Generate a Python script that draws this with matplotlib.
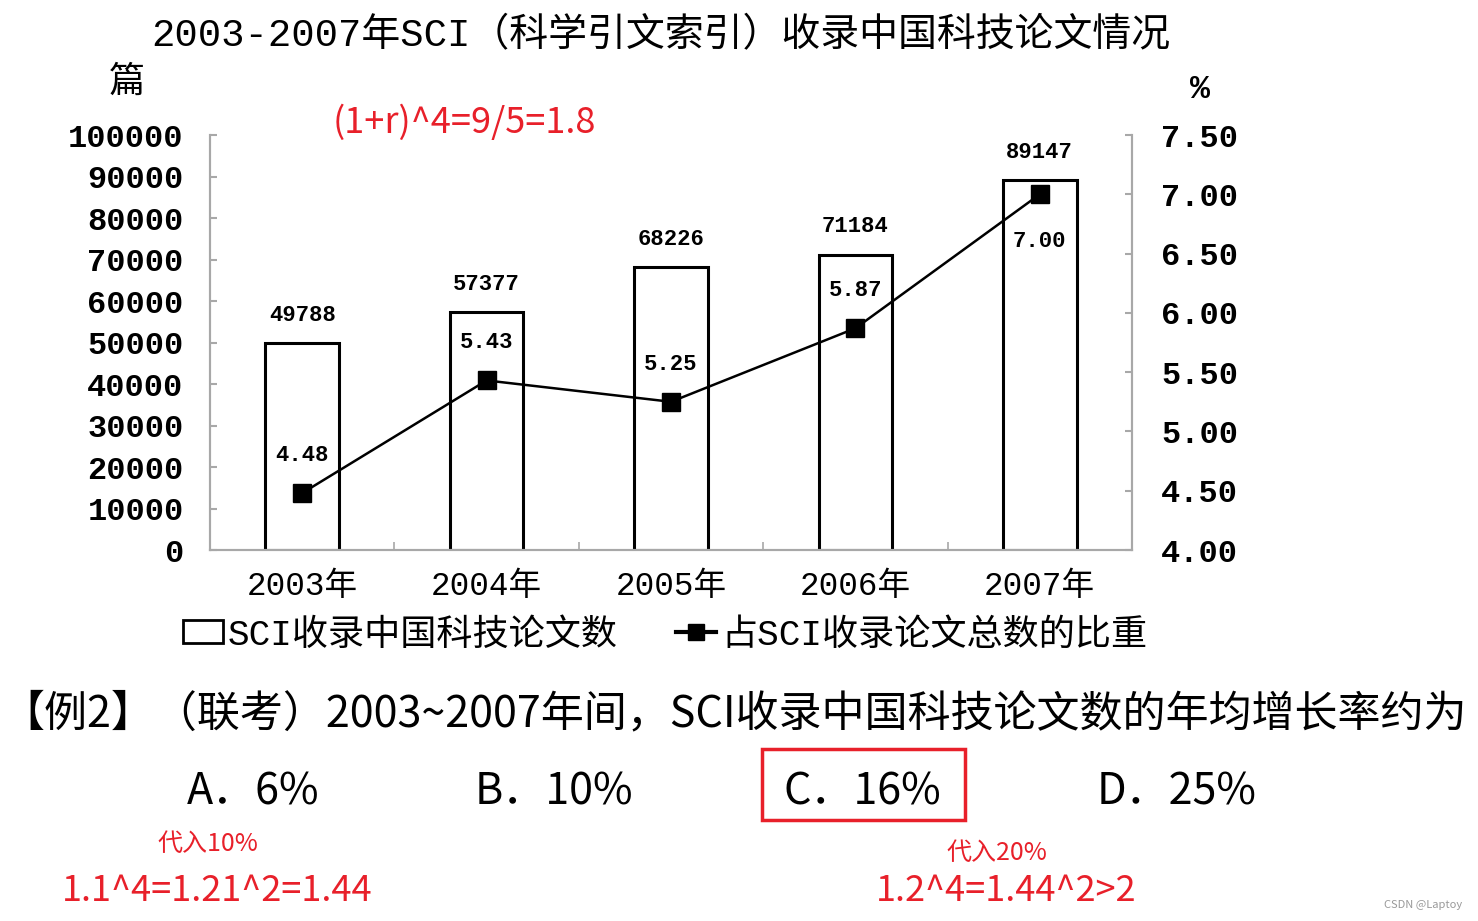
import matplotlib
matplotlib.use("Agg")
import matplotlib.pyplot as plt
from matplotlib.patches import Patch, Rectangle
from matplotlib.lines import Line2D

plt.rcParams['font.family'] = ['Liberation Mono', 'Noto Sans CJK SC', 'DejaVu Sans']

# data
years = ['2003年', '2004年', '2005年', '2006年', '2007年']
papers = [49788, 57377, 68226, 71184, 89147]       # SCI收录中国科技论文数 (篇)
share = [4.48, 5.43, 5.25, 5.87, 7.00]             # 占SCI收录论文总数的比重 (%)
left_ticks = list(range(0, 100001, 10000))
right_ticks = [4.0, 4.5, 5.0, 5.5, 6.0, 6.5, 7.0, 7.5]

title = '2003-2007年SCI（科学引文索引）收录中国科技论文情况'
legend_labels = ['SCI收录中国科技论文数', '占SCI收录论文总数的比重']
question = '【例2】（联考）2003~2007年间，SCI收录中国科技论文数的年均增长率约为'
options = ['A．6%', 'B．10%', 'C．16%', 'D．25%']

W, H = 1478, 921
RED = '#e8202a'
GREY = '#a8a8a8'
MONO = ['Liberation Mono', 'Noto Sans CJK SC']
SANS = ['Noto Sans CJK SC', 'DejaVu Sans']


def fx(x):
    return x / W


def fy(y):
    return 1 - y / H


fig = plt.figure(figsize=(W / 100, H / 100), dpi=100)
ax = fig.add_axes([fx(210), fy(550), (1132 - 210) / W, (550 - 135) / H])
ax2 = ax.twinx()

# bars
bars = ax.bar(range(len(papers)), papers, width=0.40, color='white',
              edgecolor='black', linewidth=2.2, zorder=2)
for i, v in enumerate(papers):
    ax.annotate(str(v), xy=(i, v), xytext=(0, 20), textcoords='offset points',
                ha='center', va='center', fontsize=16, family=MONO, weight='bold')

# line
line, = ax2.plot(range(len(share)), share, color='black', lw=1.8,
                 marker='s', markersize=13, zorder=3)
for i, r in enumerate(share):
    dy = -34 if i == len(share) - 1 else 27
    ax2.annotate(f'{r:.2f}', xy=(i, r), xytext=(0, dy), textcoords='offset points',
                 ha='center', va='center', fontsize=16, family=MONO, weight='bold')

ax.set_xlim(-0.5, len(papers) - 0.5)
ax.set_ylim(0, 100000)
ax2.set_ylim(4, 7.5)

ax.set_yticks(left_ticks)
ax.set_yticklabels([str(t) for t in left_ticks], family=MONO, fontsize=23, weight='bold')
ax2.set_yticks(right_ticks)
ax2.set_yticklabels([f'{t:.2f}' for t in right_ticks], family=MONO, fontsize=23, weight='bold')

ax.set_xticks(range(len(years)))
ax.set_xticklabels(years, family=MONO, fontsize=23.5)
ax.set_xticks([0.5, 1.5, 2.5, 3.5], minor=True)
ax.tick_params(axis='x', which='major', length=0, pad=15)
ax.tick_params(axis='x', which='minor', direction='in', length=6, width=1.2, color=GREY)
ax.tick_params(axis='y', direction='in', length=5, width=1.5, color=GREY, pad=19)
ax2.tick_params(axis='y', direction='in', length=5, width=1.5, color=GREY, pad=21)

for a in (ax, ax2):
    a.spines['top'].set_visible(False)
    for s in ('left', 'right', 'bottom'):
        a.spines[s].set_color(GREY)
        a.spines[s].set_linewidth(1.5)

# titles and units
fig.text(fx(661), fy(36), title, ha='center', va='center', fontsize=28, family=MONO)
fig.text(fx(127), fy(82), '篇', ha='center', va='center', fontsize=26, family=MONO)
fig.text(fx(1200), fy(90), '%', ha='center', va='center', fontsize=24, family=MONO, weight='bold')
fig.text(fx(333), fy(123), '(1+r)^4=9/5=1.8', ha='left', va='center', fontsize=26,
         family=SANS, color=RED)

# legend
handles = [Patch(facecolor='white', edgecolor='black', linewidth=2),
           Line2D([], [], color='black', lw=3, marker='s', markersize=12)]
fig.legend(handles, legend_labels, loc='center', bbox_to_anchor=(fx(665), fy(635)),
           ncol=2, frameon=False, prop={'family': MONO, 'size': 26},
           handlelength=1.1, handleheight=0.6, handletextpad=0.15, columnspacing=1.6)

# question text
fig.text(fx(1), fy(714), question, ha='left', va='center', fontsize=31, family=SANS)
opt_x = [187, 475, 783, 1097]
for x, t in zip(opt_x, options):
    fig.text(fx(x), fy(792), t, ha='left', va='center', fontsize=31, family=SANS)
fig.patches.append(Rectangle((fx(762), fy(820)), (965 - 762) / W, (820 - 749) / H,
                             transform=fig.transFigure, fill=False, edgecolor=RED, lw=2.5))

fig.text(fx(157), fy(844), '代入10%', ha='left', va='center', fontsize=18, family=SANS, color=RED)
fig.text(fx(62), fy(891), '1.1^4=1.21^2=1.44', ha='left', va='center', fontsize=26,
         family=SANS, color=RED)
fig.text(fx(946), fy(853), '代入20%', ha='left', va='center', fontsize=18, family=SANS, color=RED)
fig.text(fx(876), fy(891), '1.2^4=1.44^2>2', ha='left', va='center', fontsize=26,
         family=SANS, color=RED)
fig.text(fx(1462), fy(905), 'CSDN @Laptoy', ha='right', va='center', fontsize=8,
         family=SANS, color='#999999')

fig.savefig('out.png', dpi=100, facecolor='white')
